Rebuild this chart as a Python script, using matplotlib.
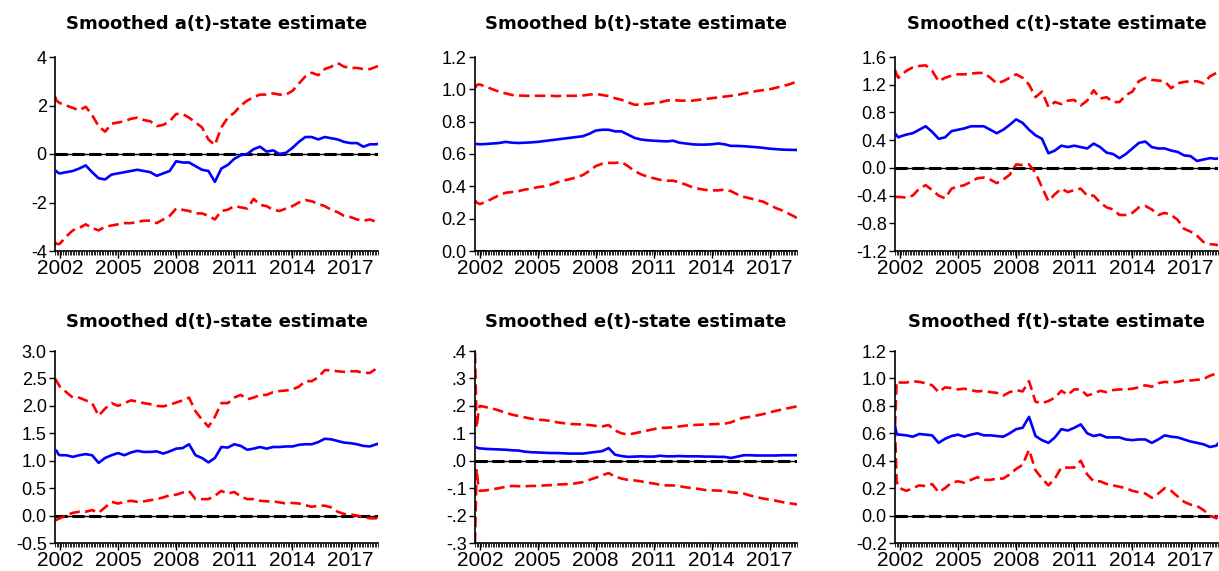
import numpy as np
import matplotlib
matplotlib.use('Agg')
import matplotlib.pyplot as plt
from matplotlib.ticker import MultipleLocator

# observation months counted from 2001M10 (first 3 monthly, then every 4 months)
obs_month = [0, 1, 2] + list(range(3, 200, 4)) + [200]
dates = [2001.75 + m / 12.0 for m in obs_month]

# ---- a(t)
a_est = [-0.66, -0.72, -0.78, -0.8, -0.75, -0.7, -0.6, -0.47, -0.75, -1.0, -1.05, -0.85,
         -0.8, -0.75, -0.7, -0.65, -0.7, -0.75, -0.9, -0.8, -0.7, -0.3, -0.35, -0.35,
         -0.5, -0.65, -0.7, -1.15, -0.6, -0.45, -0.2, -0.05, 0.0, 0.2, 0.3, 0.1,
         0.15, 0.0, 0.05, 0.25, 0.5, 0.7, 0.7, 0.6, 0.7, 0.65, 0.6, 0.5,
         0.45, 0.45, 0.3, 0.4, 0.4, 0.42]
a_up = [2.37, 2.2, 2.15, 2.1, 2.0, 1.9, 1.8, 1.95, 1.6, 1.15, 0.92, 1.25,
        1.3, 1.35, 1.45, 1.5, 1.4, 1.35, 1.15, 1.2, 1.35, 1.65, 1.65, 1.5,
        1.3, 1.1, 0.6, 0.37, 1.1, 1.5, 1.7, 2.0, 2.2, 2.35, 2.45, 2.45,
        2.5, 2.45, 2.45, 2.6, 2.9, 3.2, 3.35, 3.25, 3.5, 3.6, 3.75, 3.6,
        3.55, 3.55, 3.5, 3.5, 3.6, 3.62]
a_lo = [-3.65, -3.7, -3.72, -3.7, -3.4, -3.15, -3.05, -2.9, -3.05, -3.15, -3.0, -2.95,
        -2.9, -2.85, -2.85, -2.8, -2.75, -2.75, -2.85, -2.7, -2.55, -2.25, -2.3, -2.35,
        -2.45, -2.45, -2.55, -2.7, -2.35, -2.3, -2.15, -2.2, -2.25, -1.85, -2.1, -2.15,
        -2.3, -2.35, -2.25, -2.15, -2.0, -1.9, -1.95, -2.05, -2.15, -2.3, -2.4, -2.55,
        -2.6, -2.7, -2.75, -2.7, -2.8, -2.82]

# ---- b(t)
b_est = [0.662, 0.662, 0.661, 0.66, 0.662, 0.665, 0.668, 0.675, 0.67, 0.668, 0.67, 0.672,
         0.675, 0.68, 0.685, 0.69, 0.695, 0.70, 0.705, 0.71, 0.725, 0.745, 0.75, 0.75,
         0.74, 0.74, 0.72, 0.70, 0.69, 0.685, 0.682, 0.68, 0.678, 0.682, 0.67, 0.665,
         0.66, 0.658, 0.658, 0.66, 0.665, 0.66, 0.65, 0.65, 0.648, 0.645, 0.642, 0.638,
         0.633, 0.63, 0.627, 0.626, 0.625, 0.625]
b_up = [1.008, 1.025, 1.03, 1.03, 1.015, 1.0, 0.985, 0.975, 0.965, 0.962, 0.96, 0.96,
        0.96, 0.96, 0.96, 0.958, 0.96, 0.96, 0.96, 0.962, 0.967, 0.972, 0.965, 0.958,
        0.945, 0.935, 0.92, 0.905, 0.905, 0.91, 0.915, 0.92, 0.93, 0.935, 0.93, 0.93,
        0.93, 0.935, 0.94, 0.945, 0.95, 0.955, 0.96, 0.965, 0.975, 0.98, 0.99, 0.995,
        1.0, 1.01, 1.02, 1.03, 1.045, 1.05]
b_lo = [0.314, 0.30, 0.295, 0.29, 0.305, 0.325, 0.345, 0.36, 0.365, 0.37, 0.38, 0.385,
        0.395, 0.40, 0.41, 0.425, 0.435, 0.445, 0.455, 0.47, 0.495, 0.525, 0.54, 0.545,
        0.545, 0.55, 0.525, 0.495, 0.475, 0.46, 0.45, 0.44, 0.435, 0.435, 0.425, 0.41,
        0.395, 0.385, 0.378, 0.375, 0.375, 0.38, 0.37, 0.35, 0.335, 0.325, 0.315, 0.305,
        0.285, 0.265, 0.25, 0.23, 0.21, 0.20]

# ---- c(t)
c_est = [0.5, 0.47, 0.44, 0.45, 0.48, 0.5, 0.55, 0.6, 0.52, 0.42, 0.44, 0.53,
         0.55, 0.57, 0.6, 0.6, 0.6, 0.55, 0.5, 0.55, 0.62, 0.7, 0.65, 0.55,
         0.47, 0.42, 0.21, 0.25, 0.32, 0.3, 0.32, 0.3, 0.28, 0.35, 0.3, 0.22,
         0.2, 0.14, 0.2, 0.28, 0.36, 0.38, 0.3, 0.28, 0.28, 0.25, 0.23, 0.18,
         0.17, 0.1, 0.12, 0.14, 0.13, 0.14]
c_up = [1.41, 1.35, 1.3, 1.32, 1.4, 1.45, 1.47, 1.48, 1.4, 1.25, 1.3, 1.33,
        1.35, 1.35, 1.36, 1.37, 1.37, 1.3, 1.22, 1.25, 1.3, 1.35, 1.3, 1.2,
        1.02, 1.1, 0.88, 0.95, 0.92, 0.97, 0.98, 0.9, 0.97, 1.12, 1.0, 1.02,
        0.95, 0.95, 1.05, 1.1, 1.25, 1.3, 1.27, 1.26, 1.25, 1.15, 1.22, 1.24,
        1.25, 1.25, 1.22, 1.32, 1.37, 1.38]
c_lo = [-0.42, -0.42, -0.42, -0.42, -0.43, -0.4, -0.3, -0.25, -0.32, -0.4, -0.44, -0.3,
        -0.27, -0.25, -0.2, -0.15, -0.14, -0.17, -0.22, -0.17, -0.1, 0.05, 0.04, 0.05,
        -0.07, -0.28, -0.48, -0.38, -0.3, -0.35, -0.32, -0.3, -0.4, -0.4, -0.5, -0.57,
        -0.6, -0.68, -0.68, -0.65, -0.57, -0.55, -0.6, -0.68, -0.65, -0.68, -0.75, -0.88,
        -0.92, -0.98, -1.07, -1.1, -1.11, -1.12]

# ---- d(t)
d_est = [1.2, 1.18, 1.12, 1.1, 1.1, 1.07, 1.1, 1.12, 1.1, 0.96, 1.05, 1.1,
         1.14, 1.1, 1.15, 1.18, 1.16, 1.16, 1.17, 1.13, 1.17, 1.22, 1.23, 1.3,
         1.1, 1.05, 0.97, 1.05, 1.25, 1.24, 1.3, 1.27, 1.2, 1.22, 1.25, 1.22,
         1.25, 1.25, 1.26, 1.26, 1.29, 1.3, 1.3, 1.34, 1.4, 1.39, 1.36, 1.33,
         1.32, 1.3, 1.27, 1.26, 1.3, 1.31]
d_up = [2.5, 2.45, 2.4, 2.35, 2.25, 2.15, 2.15, 2.1, 2.05, 1.82, 1.95, 2.05,
        2.0, 2.05, 2.1, 2.08, 2.05, 2.03, 2.0, 1.99, 2.02, 2.06, 2.1, 2.15,
        1.9, 1.75, 1.62, 1.8, 2.05, 2.05, 2.15, 2.2, 2.12, 2.15, 2.2, 2.2,
        2.25, 2.27, 2.28, 2.3, 2.35, 2.45, 2.45, 2.52, 2.65, 2.65, 2.63, 2.62,
        2.63, 2.63, 2.6, 2.6, 2.68, 2.7]
d_lo = [-0.08, -0.08, -0.06, -0.05, 0.0, 0.05, 0.07, 0.07, 0.1, 0.05, 0.15, 0.25,
        0.22, 0.25, 0.27, 0.25, 0.26, 0.28, 0.3, 0.33, 0.37, 0.38, 0.42, 0.45,
        0.3, 0.3, 0.3, 0.36, 0.45, 0.4, 0.43, 0.35, 0.3, 0.3, 0.27, 0.26,
        0.26, 0.24, 0.22, 0.23, 0.22, 0.19, 0.16, 0.18, 0.18, 0.15, 0.07, 0.03,
        0.02, 0.0, -0.03, -0.05, -0.05, -0.07]

# ---- e(t)
e_est = [0.05, 0.048, 0.046, 0.045, 0.043, 0.042, 0.041, 0.04, 0.038, 0.037, 0.033, 0.031,
         0.03, 0.029, 0.028, 0.028, 0.027, 0.026, 0.026, 0.026, 0.029, 0.032, 0.035, 0.046,
         0.022, 0.017, 0.014, 0.015, 0.016, 0.015, 0.015, 0.018, 0.016, 0.016, 0.017, 0.016,
         0.016, 0.016, 0.015, 0.015, 0.014, 0.014, 0.01, 0.015, 0.02, 0.02, 0.019, 0.019,
         0.019, 0.019, 0.02, 0.02, 0.02, 0.02]
e_up = [0.394, 0.12, 0.17, 0.2, 0.195, 0.19, 0.183, 0.175, 0.168, 0.163, 0.158, 0.153,
        0.15, 0.148, 0.145, 0.14, 0.137, 0.134, 0.133, 0.132, 0.13, 0.127, 0.125, 0.13,
        0.11, 0.1, 0.095, 0.1, 0.105, 0.11, 0.115, 0.12, 0.12, 0.122, 0.125, 0.128,
        0.13, 0.131, 0.132, 0.133, 0.134, 0.135, 0.14, 0.15, 0.157, 0.16, 0.165, 0.17,
        0.176, 0.182, 0.187, 0.192, 0.197, 0.2]
e_lo = [-0.3, -0.03, -0.09, -0.11, -0.108, -0.104, -0.1, -0.095, -0.092, -0.093, -0.093, -0.092,
        -0.092, -0.09, -0.089, -0.087, -0.086, -0.085, -0.082, -0.078, -0.07, -0.062, -0.053, -0.045,
        -0.058, -0.065, -0.07, -0.072, -0.075, -0.08, -0.083, -0.088, -0.09, -0.09, -0.093, -0.097,
        -0.1, -0.103, -0.107, -0.108, -0.109, -0.11, -0.115, -0.117, -0.12, -0.127, -0.133, -0.138,
        -0.142, -0.146, -0.151, -0.155, -0.158, -0.16]

# ---- f(t)
f_est = [0.65, 0.6, 0.59, 0.59, 0.585, 0.575, 0.595, 0.59, 0.585, 0.53, 0.56, 0.58,
         0.59, 0.575, 0.59, 0.6, 0.585, 0.585, 0.58, 0.575, 0.6, 0.63, 0.64, 0.72,
         0.58, 0.55, 0.53, 0.57, 0.63, 0.62, 0.64, 0.665, 0.6, 0.58, 0.59, 0.57,
         0.57, 0.57, 0.555, 0.55, 0.555, 0.555, 0.53, 0.555, 0.585, 0.575, 0.57, 0.555,
         0.54, 0.53, 0.52, 0.5, 0.51, 0.525]
f_up = [0.65, 0.98, 0.975, 0.97, 0.97, 0.98, 0.975, 0.965, 0.95, 0.9, 0.935, 0.93,
        0.92, 0.925, 0.915, 0.905, 0.91, 0.9, 0.895, 0.875, 0.9, 0.915, 0.905, 0.98,
        0.83, 0.82, 0.835, 0.86, 0.91, 0.88, 0.92, 0.92, 0.875, 0.89, 0.91, 0.9,
        0.915, 0.92, 0.92, 0.925, 0.935, 0.95, 0.94, 0.965, 0.975, 0.97, 0.975, 0.985,
        0.985, 0.99, 0.995, 1.02, 1.035, 1.05]
f_lo = [0.65, 0.25, 0.21, 0.2, 0.18, 0.2, 0.22, 0.215, 0.23, 0.17, 0.2, 0.24,
        0.25, 0.24, 0.26, 0.28, 0.26, 0.26, 0.27, 0.27, 0.3, 0.34, 0.37, 0.48,
        0.33, 0.27, 0.22, 0.27, 0.35, 0.35, 0.35, 0.4, 0.3, 0.25, 0.25, 0.23,
        0.22, 0.21, 0.2, 0.18, 0.17, 0.16, 0.13, 0.16, 0.2, 0.18, 0.14, 0.1,
        0.08, 0.07, 0.04, 0.0, -0.02, 0.0]

titles = ['Smoothed a(t)-state estimate', 'Smoothed b(t)-state estimate',
          'Smoothed c(t)-state estimate', 'Smoothed d(t)-state estimate',
          'Smoothed e(t)-state estimate', 'Smoothed f(t)-state estimate']
series = [(a_est, a_up, a_lo), (b_est, b_up, b_lo), (c_est, c_up, c_lo),
          (d_est, d_up, d_lo), (e_est, e_up, e_lo), (f_est, f_up, f_lo)]
ylims = [(-4, 4), (0, 1.2), (-1.2, 1.6), (-0.5, 3.0), (-0.3, 0.4), (-0.2, 1.2)]
ysteps = [2, 0.2, 0.4, 0.5, 0.1, 0.2]
yfmt = ['{:.0f}', '{:.1f}', '{:.1f}', '{:.1f}', 'dot', '{:.1f}']
year_labels = [2002, 2005, 2008, 2011, 2014, 2017]

plt.rcParams['font.family'] = ['Liberation Sans', 'DejaVu Sans']

W, H = 1219, 571
fig = plt.figure(figsize=(W / 100, H / 100), dpi=100)
lefts = [55, 475, 895]
rights = [378, 797, 1218]
tops = [57, 351]
bots = [251, 543]
title_pad = [20, 17]

for i in range(6):
    r, c = divmod(i, 3)
    ax = fig.add_axes([lefts[c] / W, 1 - bots[r] / H,
                       (rights[c] - lefts[c]) / W, (bots[r] - tops[r]) / H])
    est, up, lo = series[i]
    ax.axhline(0, color='black', lw=1.0, zorder=1)
    ax.axhline(0, color='black', lw=2.2, ls=(0, (4, 1.5)), zorder=1)
    ax.plot(dates, up, color='#ff0000', lw=1.9, ls=(0, (4, 2)), zorder=2)
    ax.plot(dates, lo, color='#ff0000', lw=1.9, ls=(0, (4, 2)), zorder=2)
    ax.plot(dates, est, color='#0000ff', lw=1.9, zorder=3)

    ax.set_xlim(dates[0], dates[-1])
    ax.set_ylim(*ylims[i])
    ticks = np.arange(ylims[i][0], ylims[i][1] + ysteps[i] / 2, ysteps[i])
    ax.set_yticks(ticks)
    if yfmt[i] == 'dot':
        labs = []
        for t in ticks:
            s = '{:.1f}'.format(t)
            s = s.replace('0.', '.')
            labs.append(s)
        ax.set_yticklabels(labs)
    else:
        ax.set_yticklabels([yfmt[i].format(t) for t in ticks])

    ax.set_xticks(year_labels)
    ax.set_xticklabels([str(y) for y in year_labels])
    ax.xaxis.set_minor_locator(MultipleLocator(1 / 12))

    for s in ['top', 'right']:
        ax.spines[s].set_visible(False)
    ax.spines['left'].set_linewidth(1.2)
    ax.spines['bottom'].set_linewidth(1.2)
    ax.tick_params(axis='both', colors='black')
    ax.tick_params(axis='y', labelsize=13, length=4, width=1, pad=2)
    ax.tick_params(axis='x', which='major', labelsize=15, length=5, width=1, pad=1)
    ax.tick_params(axis='x', which='minor', length=3, width=0.6)
    ax.set_title(titles[i], fontsize=13, fontweight='bold', pad=title_pad[r],
                 family=['DejaVu Sans'])

fig.savefig('out.png', dpi=100)
